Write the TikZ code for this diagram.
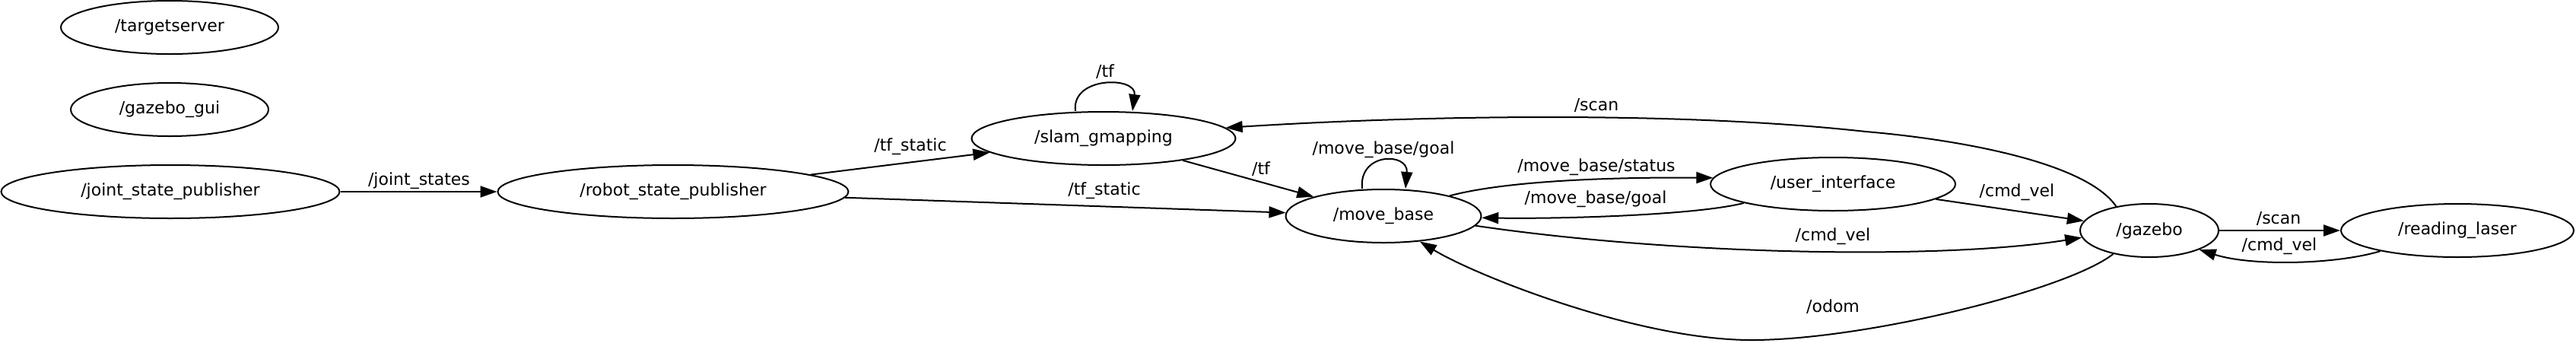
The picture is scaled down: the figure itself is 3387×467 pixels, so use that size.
\documentclass[tikz,border=0pt]{standalone}
\usepackage{fontspec}
\setmainfont{DejaVu Sans}
\usetikzlibrary{shapes.geometric,arrows.meta}
\begin{document}
\begin{tikzpicture}[x=1pt,y=-1pt,
  nd/.style={ellipse,draw,line width=2pt,minimum height=70pt,inner sep=0pt,font=\fontsize{22}{26}\selectfont},
  edge/.style={line width=2pt,-{Triangle[length=22pt,width=15pt]}},
  lbl/.style={font=\fontsize{22}{26}\selectfont,inner sep=0pt}]
\useasboundingbox (0,0) rectangle (3387,467);
% nodes
\node[nd,minimum width=286pt] (ts) at (223,36) {/targetserver};
\node[nd,minimum width=260pt] (gg) at (223,144) {/gazebo\_gui};
\node[nd,minimum width=445pt] (jsp) at (224,252) {/joint\_state\_publisher};
\node[nd,minimum width=461pt] (rsp) at (885,252) {/robot\_state\_publisher};
\node[nd,minimum width=347pt] (slam) at (1451,182) {/slam\_gmapping};
\node[nd,minimum width=257pt] (mb) at (1819,284) {/move\_base};
\node[nd,minimum width=322pt] (ui) at (2410,242) {/user\_interface};
\node[nd,minimum width=182pt] (gz) at (2826,303) {/gazebo};
\node[nd,minimum width=306pt] (rl) at (3231,303) {/reading\_laser};
% edges
\draw[edge] (jsp) -- (rsp);
\draw[edge] (rsp) -- (slam);
\draw[edge] (rsp) -- (mb);
\draw[edge] (slam) -- (mb);
\draw[edge] ([xshift=-37pt]slam.north) .. controls (1408,100) and (1495,100) .. ([xshift=38pt]slam.north);
\draw[edge] ([xshift=-28pt]mb.north) .. controls (1786,200) and (1852,200) .. ([xshift=29pt]mb.north);
\draw[edge] (mb.17) .. controls (1990,235) and (2150,233) .. (ui.177);
\draw[edge] (ui.192) .. controls (2230,283) and (2050,288) .. (mb.-1.5);
\draw[edge] (ui) -- (gz);
\draw[edge] (mb.-6.7) .. controls (2200,335) and (2550,342) .. (gz.186);
\coordinate (s1) at (2453,173);
\draw[edge] (gz.144) .. controls (2740,210) and (2560,182) .. (s1) .. controls (2203,145.5) and (1862,152) .. (slam.5.3);
\coordinate (o1) at (2303,447);
\draw[edge] (gz.213) .. controls (2719,381) and (2453,447) .. (o1) .. controls (2153,447) and (1940,362) .. (mb.-35);
\draw[edge] (gz) -- (rl);
\draw[edge] (rl.195) .. controls (3070,348) and (2960,350) .. (gz.-21);
% labels
\node[lbl] (l1) at (551,238) {/joint\_states};
\node[lbl] (l2) at (1197,193) {/tf\_static};
\node[lbl] (l3) at (1452,251) {/tf\_static};
\node[lbl] (l4) at (1453,94) {/tf};
\node[lbl] (l5) at (1658,222) {/tf};
\node[lbl] (l6) at (1819,197) {/move\_base/goal};
\node[lbl] (l7) at (2099,220) {/move\_base/status};
\node[lbl] (l8) at (2098,262) {/move\_base/goal};
\node[lbl] (l9) at (2652,253) {/cmd\_vel};
\node[lbl] (l10) at (2410,311) {/cmd\_vel};
\node[lbl] (l11) at (2099,138) {/scan};
\node[lbl] (l12) at (2410,403) {/odom};
\node[lbl] (l13) at (2996,287) {/scan};
\node[lbl] (l14) at (2997,324) {/cmd\_vel};
\end{tikzpicture}
\end{document}
